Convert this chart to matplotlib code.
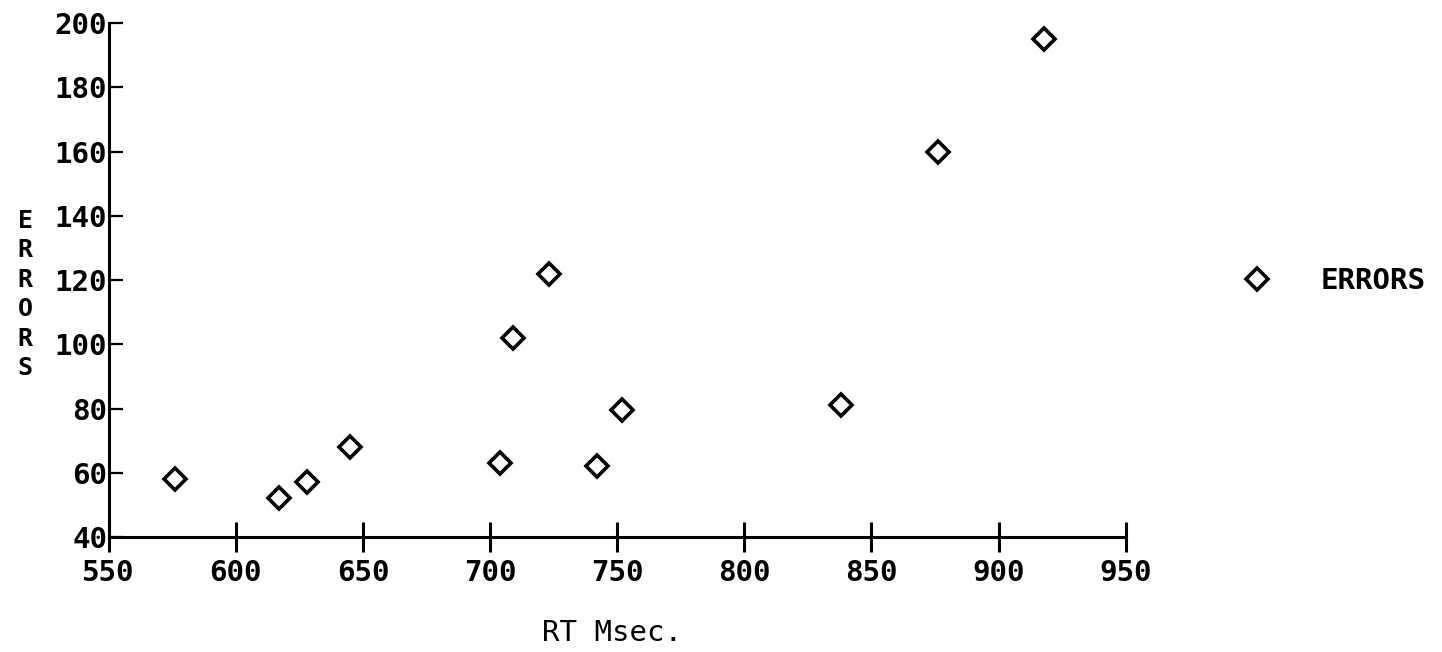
import matplotlib
matplotlib.use('Agg')
import matplotlib.pyplot as plt

# values
rt_msec = [576, 617, 628, 645, 704, 709, 723, 742, 752, 838, 876, 918]
errors = [58, 52, 57, 68, 63, 102, 122, 62, 79.5, 81, 160, 195]

x_ticks = [550, 600, 650, 700, 750, 800, 850, 900, 950]
y_ticks = [40, 60, 80, 100, 120, 140, 160, 180, 200]

plt.rcParams['font.family'] = ['DejaVu Sans Mono']

fig = plt.figure(figsize=(14.42, 6.52), dpi=100)
ax = fig.add_axes([0.0753, 0.1764, 0.7054, 0.7879])

ax.plot(rt_msec, errors, linestyle='none', marker='D', markersize=11,
        markerfacecolor='white', markeredgecolor='black', markeredgewidth=2.6,
        label='ERRORS')

ax.set_xlim(550, 950)
ax.set_ylim(40, 200)
ax.set_xticks(x_ticks)
ax.set_yticks(y_ticks)

for s in ['top', 'right']:
    ax.spines[s].set_visible(False)
for s in ['left', 'bottom']:
    ax.spines[s].set_linewidth(2.2)

ax.tick_params(axis='x', direction='inout', length=22, width=2.2, pad=5,
               labelsize=21)
ax.tick_params(axis='y', direction='in', length=10, width=1.6, pad=1,
               labelsize=21)
for lab in ax.get_xticklabels() + ax.get_yticklabels():
    lab.set_fontweight('bold')

# stacked vertical y label
ax.text(-0.082, 0.472, '\n'.join('ERRORS'), transform=ax.transAxes,
        ha='center', va='center', fontsize=18, fontweight='bold',
        linespacing=1.29)
ax.text(0.495, -0.187, 'RT Msec.', transform=ax.transAxes,
        ha='center', va='center', fontsize=21)

leg = ax.legend(loc='center left', bbox_to_anchor=(0.8516, 0.569),
                bbox_transform=fig.transFigure, frameon=False,
                numpoints=1, handlelength=2, handletextpad=1.16,
                borderaxespad=0, borderpad=0,
                prop={'size': 21, 'weight': 'bold'})

fig.savefig('out.png', dpi=100, facecolor='white')
